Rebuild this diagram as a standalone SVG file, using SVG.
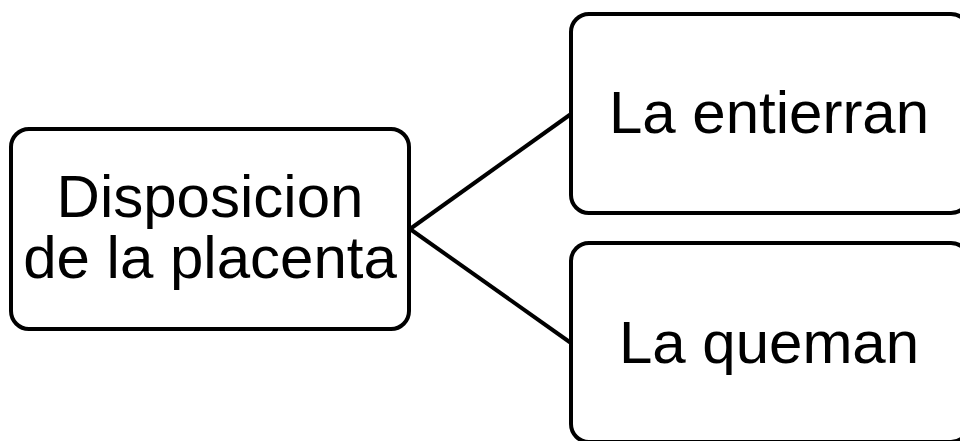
<svg xmlns="http://www.w3.org/2000/svg" width="960" height="441" viewBox="0 0 960 441">
<style>
.box{fill:#fff;stroke:#000;stroke-width:4}
.lbl{font-family:"Liberation Sans",Arial,sans-serif;font-size:60px;fill:#000;text-anchor:middle}
.conn{stroke:#000;stroke-width:4;fill:none}
</style>
<rect width="960" height="441" fill="#fff"/>
<g id="connectors">
<line class="conn" x1="410" y1="229" x2="571" y2="114"/>
<line class="conn" x1="410" y1="229" x2="571" y2="343"/>
</g>
<g id="node-disposicion">
<rect class="box" x="11" y="129" width="398" height="200" rx="18"/>
<text class="lbl" x="210" y="217">Disposicion</text>
<text class="lbl" x="210" y="278">de la placenta</text>
</g>
<g id="node-entierran">
<rect class="box" x="571" y="14" width="398" height="199" rx="18"/>
<text class="lbl" x="769" y="133">La entierran</text>
</g>
<g id="node-queman">
<rect class="box" x="571" y="243" width="398" height="199" rx="18"/>
<text class="lbl" x="769" y="363">La queman</text>
</g>
</svg>
